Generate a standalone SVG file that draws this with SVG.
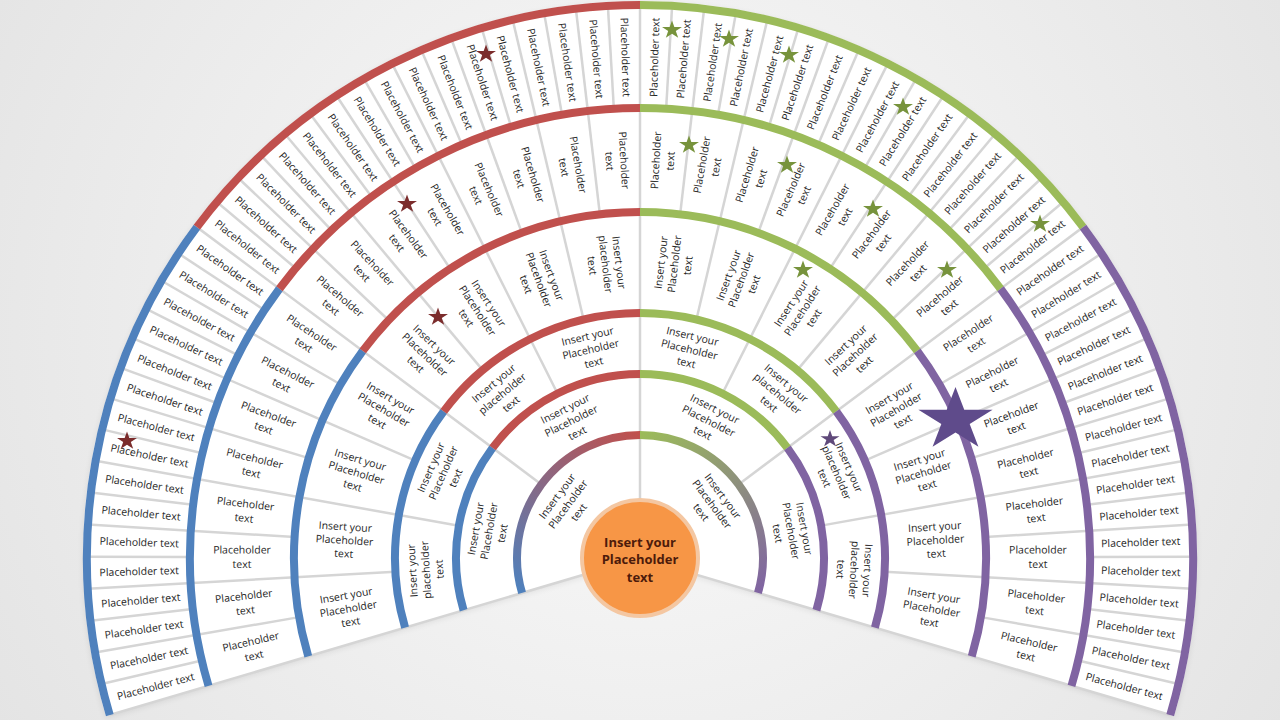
<svg xmlns="http://www.w3.org/2000/svg" xmlns:xlink="http://www.w3.org/1999/xlink" width="1280" height="720" viewBox="0 0 1280 720">
<defs>
<radialGradient id="bg" cx="640" cy="330" r="820" gradientUnits="userSpaceOnUse">
<stop offset="0" stop-color="#fbfbfb"/><stop offset="1" stop-color="#e2e2e2"/>
</radialGradient>
<linearGradient id="g1L" x1="522" y1="593" x2="640" y2="435" gradientUnits="userSpaceOnUse">
<stop offset="0" stop-color="#4F81BD"/><stop offset="1" stop-color="#C0504D"/>
</linearGradient>
<linearGradient id="g1R" x1="640" y1="435" x2="758" y2="593" gradientUnits="userSpaceOnUse">
<stop offset="0" stop-color="#9BBB59"/><stop offset="1" stop-color="#8064A2"/>
</linearGradient>
<path id="star" d="M0,-1 L0.2245,-0.309 L0.9511,-0.309 L0.3633,0.118 L0.5878,0.809 L0,0.382 L-0.5878,0.809 L-0.3633,0.118 L-0.9511,-0.309 L-0.2245,-0.309 Z"/>
<filter id="sh" x="-5%" y="-5%" width="110%" height="115%"><feGaussianBlur stdDeviation="3"/></filter>
</defs>
<style>
.t{font-family:"Open Sans","Liberation Sans",Arial,sans-serif;font-size:10.5px;fill:#262626;text-anchor:middle}
.c{font-family:"Open Sans","Liberation Sans",Arial,sans-serif;font-size:13px;font-weight:bold;fill:#4D1B0B;text-anchor:middle}
.dv{stroke:#D5D5D5;stroke-width:2.5}
.a{fill:none;stroke-width:8}
.bl{stroke:#4F81BD}.rd{stroke:#C0504D}.gn{stroke:#9BBB59}.pu{stroke:#8064A2}
.sr{fill:#7B2C2C}.sg{fill:#77933C}.sp{fill:#5F497A}.sb{fill:#5F4B8B}
</style>
<rect width="1280" height="720" fill="url(#bg)"/>
<path d="M640,560 L105.94,718.2 A557,557 0 1 1 1174.06,718.2 Z" fill="#000" opacity="0.08" filter="url(#sh)"/>
<path id="fan" d="M640,558 L105.94,716.2 A557,557 0 1 1 1174.06,716.2 Z" fill="#ffffff"/>

<g id="connectors" transform="translate(640,558)" class="dv">
<line x1="0" x2="553" transform="rotate(16.5)"/>
<line x1="450" x2="553" transform="rotate(13.17)"/>
<line x1="346" x2="553" transform="rotate(9.84)"/>
<line x1="450" x2="553" transform="rotate(6.52)"/>
<line x1="245" x2="553" transform="rotate(3.19)"/>
<line x1="450" x2="553" transform="rotate(-0.14)"/>
<line x1="346" x2="553" transform="rotate(-3.47)"/>
<line x1="450" x2="553" transform="rotate(-6.80)"/>
<line x1="184" x2="553" transform="rotate(-10.13)"/>
<line x1="450" x2="553" transform="rotate(-13.45)"/>
<line x1="346" x2="553" transform="rotate(-16.78)"/>
<line x1="450" x2="553" transform="rotate(-20.11)"/>
<line x1="245" x2="553" transform="rotate(-23.44)"/>
<line x1="450" x2="553" transform="rotate(-26.77)"/>
<line x1="346" x2="553" transform="rotate(-30.09)"/>
<line x1="450" x2="553" transform="rotate(-33.42)"/>
<line x1="123" x2="553" transform="rotate(-36.75)"/>
<line x1="450" x2="553" transform="rotate(-40.08)"/>
<line x1="346" x2="553" transform="rotate(-43.41)"/>
<line x1="450" x2="553" transform="rotate(-46.73)"/>
<line x1="245" x2="553" transform="rotate(-50.06)"/>
<line x1="450" x2="553" transform="rotate(-53.39)"/>
<line x1="346" x2="553" transform="rotate(-56.72)"/>
<line x1="450" x2="553" transform="rotate(-60.05)"/>
<line x1="184" x2="553" transform="rotate(-63.38)"/>
<line x1="450" x2="553" transform="rotate(-66.70)"/>
<line x1="346" x2="553" transform="rotate(-70.03)"/>
<line x1="450" x2="553" transform="rotate(-73.36)"/>
<line x1="245" x2="553" transform="rotate(-76.69)"/>
<line x1="450" x2="553" transform="rotate(-80.02)"/>
<line x1="346" x2="553" transform="rotate(-83.34)"/>
<line x1="450" x2="553" transform="rotate(-86.67)"/>
<line x1="0" x2="553" transform="rotate(-90)"/>
<line x1="450" x2="553" transform="rotate(-93.33)"/>
<line x1="346" x2="553" transform="rotate(-96.66)"/>
<line x1="450" x2="553" transform="rotate(-99.98)"/>
<line x1="245" x2="553" transform="rotate(-103.31)"/>
<line x1="450" x2="553" transform="rotate(-106.64)"/>
<line x1="346" x2="553" transform="rotate(-109.97)"/>
<line x1="450" x2="553" transform="rotate(-113.30)"/>
<line x1="184" x2="553" transform="rotate(-116.63)"/>
<line x1="450" x2="553" transform="rotate(-119.95)"/>
<line x1="346" x2="553" transform="rotate(-123.28)"/>
<line x1="450" x2="553" transform="rotate(-126.61)"/>
<line x1="245" x2="553" transform="rotate(-129.94)"/>
<line x1="450" x2="553" transform="rotate(-133.27)"/>
<line x1="346" x2="553" transform="rotate(-136.59)"/>
<line x1="450" x2="553" transform="rotate(-139.92)"/>
<line x1="123" x2="553" transform="rotate(-143.25)"/>
<line x1="450" x2="553" transform="rotate(-146.58)"/>
<line x1="346" x2="553" transform="rotate(-149.91)"/>
<line x1="450" x2="553" transform="rotate(-153.23)"/>
<line x1="245" x2="553" transform="rotate(-156.56)"/>
<line x1="450" x2="553" transform="rotate(-159.89)"/>
<line x1="346" x2="553" transform="rotate(-163.22)"/>
<line x1="450" x2="553" transform="rotate(-166.55)"/>
<line x1="184" x2="553" transform="rotate(-169.88)"/>
<line x1="450" x2="553" transform="rotate(-173.20)"/>
<line x1="346" x2="553" transform="rotate(-176.53)"/>
<line x1="450" x2="553" transform="rotate(-179.86)"/>
<line x1="245" x2="553" transform="rotate(-183.19)"/>
<line x1="450" x2="553" transform="rotate(-186.52)"/>
<line x1="346" x2="553" transform="rotate(-189.84)"/>
<line x1="450" x2="553" transform="rotate(-193.17)"/>
<line x1="0" x2="553" transform="rotate(-196.5)"/>
</g>

<g id="bands">
<path class="a" stroke="url(#g1L)" stroke-width="7" d="M522.07,592.93 A123,123 0 0 1 640,435"/>
<path class="a" stroke="url(#g1R)" stroke-width="7" d="M640,435 A123,123 0 0 1 757.93,592.93"/>
<path class="a bl" d="M463.58,610.26 A184,184 0 0 1 492.57,447.91"/>
<path class="a rd" d="M492.57,447.91 A184,184 0 0 1 640,374"/>
<path class="a gn" d="M640,374 A184,184 0 0 1 787.43,447.91"/>
<path class="a pu" d="M787.43,447.91 A184,184 0 0 1 816.42,610.26"/>
<path class="a bl" d="M405.09,627.58 A245,245 0 0 1 443.69,411.41"/>
<path class="a rd" d="M443.69,411.41 A245,245 0 0 1 640,313"/>
<path class="a gn" d="M640,313 A245,245 0 0 1 836.31,411.41"/>
<path class="a pu" d="M836.31,411.41 A245,245 0 0 1 874.91,627.58"/>
<path class="a bl" d="M308.25,656.27 A346,346 0 0 1 362.76,350.98"/>
<path class="a rd" d="M362.76,350.98 A346,346 0 0 1 640,212"/>
<path class="a gn" d="M640,212 A346,346 0 0 1 917.24,350.98"/>
<path class="a pu" d="M917.24,350.98 A346,346 0 0 1 971.75,656.27"/>
<path class="a bl" d="M208.53,685.81 A450,450 0 0 1 279.43,288.75"/>
<path class="a rd" d="M279.43,288.75 A450,450 0 0 1 640,108"/>
<path class="a gn" d="M640,108 A450,450 0 0 1 1000.57,288.75"/>
<path class="a pu" d="M1000.57,288.75 A450,450 0 0 1 1071.47,685.81"/>
<path class="a bl" d="M109.77,715.06 A553,553 0 0 1 196.90,227.12"/>
<path class="a rd" d="M196.90,227.12 A553,553 0 0 1 640,5"/>
<path class="a gn" d="M640,5 A553,553 0 0 1 1083.10,227.12"/>
<path class="a pu" d="M1083.10,227.12 A553,553 0 0 1 1170.23,715.06"/>
</g>

<g id="ring6" transform="translate(640,558)">
<g id="r6s00" transform="rotate(14.84) translate(501)"><text class="t" y="3.8">Placeholder text</text></g>
<g id="r6s01" transform="rotate(11.51) translate(501)"><text class="t" y="3.8">Placeholder text</text></g>
<g id="r6s02" transform="rotate(8.18) translate(501)"><text class="t" y="3.8">Placeholder text</text></g>
<g id="r6s03" transform="rotate(4.85) translate(501)"><text class="t" y="3.8">Placeholder text</text></g>
<g id="r6s04" transform="rotate(1.52) translate(501)"><text class="t" y="3.8">Placeholder text</text></g>
<g id="r6s05" transform="rotate(-1.80) translate(501)"><text class="t" y="3.8">Placeholder text</text></g>
<g id="r6s06" transform="rotate(-5.13) translate(501)"><text class="t" y="3.8">Placeholder text</text></g>
<g id="r6s07" transform="rotate(-8.46) translate(501)"><text class="t" y="3.8">Placeholder text</text></g>
<g id="r6s08" transform="rotate(-11.79) translate(501)"><text class="t" y="3.8">Placeholder text</text></g>
<g id="r6s09" transform="rotate(-15.12) translate(501)"><text class="t" y="3.8">Placeholder text</text></g>
<g id="r6s10" transform="rotate(-18.45) translate(501)"><text class="t" y="3.8">Placeholder text</text></g>
<g id="r6s11" transform="rotate(-21.77) translate(501)"><text class="t" y="3.8">Placeholder text</text></g>
<g id="r6s12" transform="rotate(-25.10) translate(501)"><text class="t" y="3.8">Placeholder text</text></g>
<g id="r6s13" transform="rotate(-28.43) translate(501)"><text class="t" y="3.8">Placeholder text</text></g>
<g id="r6s14" transform="rotate(-31.76) translate(501)"><text class="t" y="3.8">Placeholder text</text></g>
<g id="r6s15" transform="rotate(-35.09) translate(501)"><text class="t" y="3.8">Placeholder text</text></g>
<g id="r6s16" transform="rotate(-38.41) translate(501)"><text class="t" y="3.8">Placeholder text</text></g>
<g id="r6s17" transform="rotate(-41.74) translate(501)"><text class="t" y="3.8">Placeholder text</text></g>
<g id="r6s18" transform="rotate(-45.07) translate(501)"><text class="t" y="3.8">Placeholder text</text></g>
<g id="r6s19" transform="rotate(-48.40) translate(501)"><text class="t" y="3.8">Placeholder text</text></g>
<g id="r6s20" transform="rotate(-51.73) translate(501)"><text class="t" y="3.8">Placeholder text</text></g>
<g id="r6s21" transform="rotate(-55.05) translate(501)"><text class="t" y="3.8">Placeholder text</text></g>
<g id="r6s22" transform="rotate(-58.38) translate(501)"><text class="t" y="3.8">Placeholder text</text></g>
<g id="r6s23" transform="rotate(-61.71) translate(501)"><text class="t" y="3.8">Placeholder text</text></g>
<g id="r6s24" transform="rotate(-65.04) translate(501)"><text class="t" y="3.8">Placeholder text</text></g>
<g id="r6s25" transform="rotate(-68.37) translate(501)"><text class="t" y="3.8">Placeholder text</text></g>
<g id="r6s26" transform="rotate(-71.70) translate(501)"><text class="t" y="3.8">Placeholder text</text></g>
<g id="r6s27" transform="rotate(-75.02) translate(501)"><text class="t" y="3.8">Placeholder text</text></g>
<g id="r6s28" transform="rotate(-78.35) translate(501)"><text class="t" y="3.8">Placeholder text</text></g>
<g id="r6s29" transform="rotate(-81.68) translate(501)"><text class="t" y="3.8">Placeholder text</text></g>
<g id="r6s30" transform="rotate(-85.01) translate(501)"><text class="t" y="3.8">Placeholder text</text></g>
<g id="r6s31" transform="rotate(-88.34) translate(501)"><text class="t" y="3.8">Placeholder text</text></g>
<g id="r6s32" transform="rotate(-91.66) translate(501) rotate(180)"><text class="t" y="3.8">Placeholder text</text></g>
<g id="r6s33" transform="rotate(-94.99) translate(501) rotate(180)"><text class="t" y="3.8">Placeholder text</text></g>
<g id="r6s34" transform="rotate(-98.32) translate(501) rotate(180)"><text class="t" y="3.8">Placeholder text</text></g>
<g id="r6s35" transform="rotate(-101.65) translate(501) rotate(180)"><text class="t" y="3.8">Placeholder text</text></g>
<g id="r6s36" transform="rotate(-104.98) translate(501) rotate(180)"><text class="t" y="3.8">Placeholder text</text></g>
<g id="r6s37" transform="rotate(-108.30) translate(501) rotate(180)"><text class="t" y="3.8">Placeholder text</text></g>
<g id="r6s38" transform="rotate(-111.63) translate(501) rotate(180)"><text class="t" y="3.8">Placeholder text</text></g>
<g id="r6s39" transform="rotate(-114.96) translate(501) rotate(180)"><text class="t" y="3.8">Placeholder text</text></g>
<g id="r6s40" transform="rotate(-118.29) translate(501) rotate(180)"><text class="t" y="3.8">Placeholder text</text></g>
<g id="r6s41" transform="rotate(-121.62) translate(501) rotate(180)"><text class="t" y="3.8">Placeholder text</text></g>
<g id="r6s42" transform="rotate(-124.95) translate(501) rotate(180)"><text class="t" y="3.8">Placeholder text</text></g>
<g id="r6s43" transform="rotate(-128.27) translate(501) rotate(180)"><text class="t" y="3.8">Placeholder text</text></g>
<g id="r6s44" transform="rotate(-131.60) translate(501) rotate(180)"><text class="t" y="3.8">Placeholder text</text></g>
<g id="r6s45" transform="rotate(-134.93) translate(501) rotate(180)"><text class="t" y="3.8">Placeholder text</text></g>
<g id="r6s46" transform="rotate(-138.26) translate(501) rotate(180)"><text class="t" y="3.8">Placeholder text</text></g>
<g id="r6s47" transform="rotate(-141.59) translate(501) rotate(180)"><text class="t" y="3.8">Placeholder text</text></g>
<g id="r6s48" transform="rotate(-144.91) translate(501) rotate(180)"><text class="t" y="3.8">Placeholder text</text></g>
<g id="r6s49" transform="rotate(-148.24) translate(501) rotate(180)"><text class="t" y="3.8">Placeholder text</text></g>
<g id="r6s50" transform="rotate(-151.57) translate(501) rotate(180)"><text class="t" y="3.8">Placeholder text</text></g>
<g id="r6s51" transform="rotate(-154.90) translate(501) rotate(180)"><text class="t" y="3.8">Placeholder text</text></g>
<g id="r6s52" transform="rotate(-158.23) translate(501) rotate(180)"><text class="t" y="3.8">Placeholder text</text></g>
<g id="r6s53" transform="rotate(-161.55) translate(501) rotate(180)"><text class="t" y="3.8">Placeholder text</text></g>
<g id="r6s54" transform="rotate(-164.88) translate(501) rotate(180)"><text class="t" y="3.8">Placeholder text</text></g>
<g id="r6s55" transform="rotate(-168.21) translate(501) rotate(180)"><text class="t" y="3.8">Placeholder text</text></g>
<g id="r6s56" transform="rotate(-171.54) translate(501) rotate(180)"><text class="t" y="3.8">Placeholder text</text></g>
<g id="r6s57" transform="rotate(-174.87) translate(501) rotate(180)"><text class="t" y="3.8">Placeholder text</text></g>
<g id="r6s58" transform="rotate(-178.20) translate(501) rotate(180)"><text class="t" y="3.8">Placeholder text</text></g>
<g id="r6s59" transform="rotate(-181.52) translate(501) rotate(180)"><text class="t" y="3.8">Placeholder text</text></g>
<g id="r6s60" transform="rotate(-184.85) translate(501) rotate(180)"><text class="t" y="3.8">Placeholder text</text></g>
<g id="r6s61" transform="rotate(-188.18) translate(501) rotate(180)"><text class="t" y="3.8">Placeholder text</text></g>
<g id="r6s62" transform="rotate(-191.51) translate(501) rotate(180)"><text class="t" y="3.8">Placeholder text</text></g>
<g id="r6s63" transform="rotate(-194.84) translate(501) rotate(180)"><text class="t" y="3.8">Placeholder text</text></g>
</g>

<g id="ring5" transform="translate(640,558)">
<g id="r5s00" transform="rotate(13.17) translate(398)"><text class="t"><tspan x="0" y="-3.5">Placeholder</tspan><tspan x="0" y="11">text</tspan></text></g>
<g id="r5s01" transform="rotate(6.52) translate(398)"><text class="t"><tspan x="0" y="-3.5">Placeholder</tspan><tspan x="0" y="11">text</tspan></text></g>
<g id="r5s02" transform="rotate(-0.14) translate(398)"><text class="t"><tspan x="0" y="-3.5">Placeholder</tspan><tspan x="0" y="11">text</tspan></text></g>
<g id="r5s03" transform="rotate(-6.80) translate(398)"><text class="t"><tspan x="0" y="-3.5">Placeholder</tspan><tspan x="0" y="11">text</tspan></text></g>
<g id="r5s04" transform="rotate(-13.45) translate(398)"><text class="t"><tspan x="0" y="-3.5">Placeholder</tspan><tspan x="0" y="11">text</tspan></text></g>
<g id="r5s05" transform="rotate(-20.11) translate(398)"><text class="t"><tspan x="0" y="-3.5">Placeholder</tspan><tspan x="0" y="11">text</tspan></text></g>
<g id="r5s06" transform="rotate(-26.77) translate(398)"><text class="t"><tspan x="0" y="-3.5">Placeholder</tspan><tspan x="0" y="11">text</tspan></text></g>
<g id="r5s07" transform="rotate(-33.42) translate(398)"><text class="t"><tspan x="0" y="-3.5">Placeholder</tspan><tspan x="0" y="11">text</tspan></text></g>
<g id="r5s08" transform="rotate(-40.08) translate(398)"><text class="t"><tspan x="0" y="-3.5">Placeholder</tspan><tspan x="0" y="11">text</tspan></text></g>
<g id="r5s09" transform="rotate(-46.73) translate(398)"><text class="t"><tspan x="0" y="-3.5">Placeholder</tspan><tspan x="0" y="11">text</tspan></text></g>
<g id="r5s10" transform="rotate(-53.39) translate(398)"><text class="t"><tspan x="0" y="-3.5">Placeholder</tspan><tspan x="0" y="11">text</tspan></text></g>
<g id="r5s11" transform="rotate(-60.05) translate(398)"><text class="t"><tspan x="0" y="-3.5">Placeholder</tspan><tspan x="0" y="11">text</tspan></text></g>
<g id="r5s12" transform="rotate(-66.70) translate(398)"><text class="t"><tspan x="0" y="-3.5">Placeholder</tspan><tspan x="0" y="11">text</tspan></text></g>
<g id="r5s13" transform="rotate(-73.36) translate(398)"><text class="t"><tspan x="0" y="-3.5">Placeholder</tspan><tspan x="0" y="11">text</tspan></text></g>
<g id="r5s14" transform="rotate(-80.02) translate(398)"><text class="t"><tspan x="0" y="-3.5">Placeholder</tspan><tspan x="0" y="11">text</tspan></text></g>
<g id="r5s15" transform="rotate(-86.67) translate(398)"><text class="t"><tspan x="0" y="-3.5">Placeholder</tspan><tspan x="0" y="11">text</tspan></text></g>
<g id="r5s16" transform="rotate(-93.33) translate(398) rotate(180)"><text class="t"><tspan x="0" y="-3.5">Placeholder</tspan><tspan x="0" y="11">text</tspan></text></g>
<g id="r5s17" transform="rotate(-99.98) translate(398) rotate(180)"><text class="t"><tspan x="0" y="-3.5">Placeholder</tspan><tspan x="0" y="11">text</tspan></text></g>
<g id="r5s18" transform="rotate(-106.64) translate(398) rotate(180)"><text class="t"><tspan x="0" y="-3.5">Placeholder</tspan><tspan x="0" y="11">text</tspan></text></g>
<g id="r5s19" transform="rotate(-113.30) translate(398) rotate(180)"><text class="t"><tspan x="0" y="-3.5">Placeholder</tspan><tspan x="0" y="11">text</tspan></text></g>
<g id="r5s20" transform="rotate(-119.95) translate(398) rotate(180)"><text class="t"><tspan x="0" y="-3.5">Placeholder</tspan><tspan x="0" y="11">text</tspan></text></g>
<g id="r5s21" transform="rotate(-126.61) translate(398) rotate(180)"><text class="t"><tspan x="0" y="-3.5">Placeholder</tspan><tspan x="0" y="11">text</tspan></text></g>
<g id="r5s22" transform="rotate(-133.27) translate(398) rotate(180)"><text class="t"><tspan x="0" y="-3.5">Placeholder</tspan><tspan x="0" y="11">text</tspan></text></g>
<g id="r5s23" transform="rotate(-139.92) translate(398) rotate(180)"><text class="t"><tspan x="0" y="-3.5">Placeholder</tspan><tspan x="0" y="11">text</tspan></text></g>
<g id="r5s24" transform="rotate(-146.58) translate(398) rotate(180)"><text class="t"><tspan x="0" y="-3.5">Placeholder</tspan><tspan x="0" y="11">text</tspan></text></g>
<g id="r5s25" transform="rotate(-153.23) translate(398) rotate(180)"><text class="t"><tspan x="0" y="-3.5">Placeholder</tspan><tspan x="0" y="11">text</tspan></text></g>
<g id="r5s26" transform="rotate(-159.89) translate(398) rotate(180)"><text class="t"><tspan x="0" y="-3.5">Placeholder</tspan><tspan x="0" y="11">text</tspan></text></g>
<g id="r5s27" transform="rotate(-166.55) translate(398) rotate(180)"><text class="t"><tspan x="0" y="-3.5">Placeholder</tspan><tspan x="0" y="11">text</tspan></text></g>
<g id="r5s28" transform="rotate(-173.20) translate(398) rotate(180)"><text class="t"><tspan x="0" y="-3.5">Placeholder</tspan><tspan x="0" y="11">text</tspan></text></g>
<g id="r5s29" transform="rotate(-179.86) translate(398) rotate(180)"><text class="t"><tspan x="0" y="-3.5">Placeholder</tspan><tspan x="0" y="11">text</tspan></text></g>
<g id="r5s30" transform="rotate(-186.52) translate(398) rotate(180)"><text class="t"><tspan x="0" y="-3.5">Placeholder</tspan><tspan x="0" y="11">text</tspan></text></g>
<g id="r5s31" transform="rotate(-193.17) translate(398) rotate(180)"><text class="t"><tspan x="0" y="-3.5">Placeholder</tspan><tspan x="0" y="11">text</tspan></text></g>
</g>

<g id="ring4" transform="translate(640,558)">
<g id="r4s00" transform="rotate(9.84) translate(296)"><text class="t"><tspan x="0" y="-9.7">Insert your</tspan><tspan x="0" y="3.8">Placeholder</tspan><tspan x="0" y="17.3">text</tspan></text></g>
<g id="r4s01" transform="rotate(-3.47) translate(296)"><text class="t"><tspan x="0" y="-9.7">Insert your</tspan><tspan x="0" y="3.8">Placeholder</tspan><tspan x="0" y="17.3">text</tspan></text></g>
<g id="r4s02" transform="rotate(-16.78) translate(296)"><text class="t"><tspan x="0" y="-9.7">Insert your</tspan><tspan x="0" y="3.8">Placeholder</tspan><tspan x="0" y="17.3">text</tspan></text></g>
<g id="r4s03" transform="rotate(-30.09) translate(296)"><text class="t"><tspan x="0" y="-9.7">Insert your</tspan><tspan x="0" y="3.8">Placeholder</tspan><tspan x="0" y="17.3">text</tspan></text></g>
<g id="r4s04" transform="rotate(-43.41) translate(296)"><text class="t"><tspan x="0" y="-9.7">Insert your</tspan><tspan x="0" y="3.8">Placeholder</tspan><tspan x="0" y="17.3">text</tspan></text></g>
<g id="r4s05" transform="rotate(-56.72) translate(296)"><text class="t"><tspan x="0" y="-9.7">Insert your</tspan><tspan x="0" y="3.8">Placeholder</tspan><tspan x="0" y="17.3">text</tspan></text></g>
<g id="r4s06" transform="rotate(-70.03) translate(296)"><text class="t"><tspan x="0" y="-9.7">Insert your</tspan><tspan x="0" y="3.8">Placeholder</tspan><tspan x="0" y="17.3">text</tspan></text></g>
<g id="r4s07" transform="rotate(-83.34) translate(296)"><text class="t"><tspan x="0" y="-9.7">Insert your</tspan><tspan x="0" y="3.8">Placeholder</tspan><tspan x="0" y="17.3">text</tspan></text></g>
<g id="r4s08" transform="rotate(-96.66) translate(296) rotate(180)"><text class="t"><tspan x="0" y="-9.7">Insert your</tspan><tspan x="0" y="3.8">placeholder</tspan><tspan x="0" y="17.3">text</tspan></text></g>
<g id="r4s09" transform="rotate(-109.97) translate(296) rotate(180)"><text class="t"><tspan x="0" y="-9.7">Insert your</tspan><tspan x="0" y="3.8">Placeholder</tspan><tspan x="0" y="17.3">text</tspan></text></g>
<g id="r4s10" transform="rotate(-123.28) translate(296) rotate(180)"><text class="t"><tspan x="0" y="-9.7">Insert your</tspan><tspan x="0" y="3.8">Placeholder</tspan><tspan x="0" y="17.3">text</tspan></text></g>
<g id="r4s11" transform="rotate(-136.59) translate(296) rotate(180)"><text class="t"><tspan x="0" y="-9.7">Insert your</tspan><tspan x="0" y="3.8">Placeholder</tspan><tspan x="0" y="17.3">text</tspan></text></g>
<g id="r4s12" transform="rotate(-149.91) translate(296) rotate(180)"><text class="t"><tspan x="0" y="-9.7">Insert your</tspan><tspan x="0" y="3.8">Placeholder</tspan><tspan x="0" y="17.3">text</tspan></text></g>
<g id="r4s13" transform="rotate(-163.22) translate(296) rotate(180)"><text class="t"><tspan x="0" y="-9.7">Insert your</tspan><tspan x="0" y="3.8">Placeholder</tspan><tspan x="0" y="17.3">text</tspan></text></g>
<g id="r4s14" transform="rotate(-176.53) translate(296) rotate(180)"><text class="t"><tspan x="0" y="-9.7">Insert your</tspan><tspan x="0" y="3.8">Placeholder</tspan><tspan x="0" y="17.3">text</tspan></text></g>
<g id="r4s15" transform="rotate(-189.84) translate(296) rotate(180)"><text class="t"><tspan x="0" y="-9.7">Insert your</tspan><tspan x="0" y="3.8">Placeholder</tspan><tspan x="0" y="17.3">text</tspan></text></g>
</g>

<g id="ring3" transform="translate(640,558)">
<g id="r3s0" transform="rotate(3.19) translate(214.5) rotate(90)"><text class="t"><tspan x="0" y="-9.7">Insert your</tspan><tspan x="0" y="3.8">placeholder</tspan><tspan x="0" y="17.3">text</tspan></text></g>
<g id="r3s1" transform="rotate(-23.44) translate(214.5) rotate(90)"><text class="t"><tspan x="0" y="-9.7">Insert your</tspan><tspan x="0" y="3.8">placeholder</tspan><tspan x="0" y="17.3">text</tspan></text></g>
<g id="r3s2" transform="rotate(-50.06) translate(214.5) rotate(90)"><text class="t"><tspan x="0" y="-9.7">Insert your</tspan><tspan x="0" y="3.8">placeholder</tspan><tspan x="0" y="17.3">text</tspan></text></g>
<g id="r3s3" transform="rotate(-76.69) translate(214.5) rotate(90)"><text class="t"><tspan x="0" y="-9.7">Insert your</tspan><tspan x="0" y="3.8">Placeholder</tspan><tspan x="0" y="17.3">text</tspan></text></g>
<g id="r3s4" transform="rotate(-103.31) translate(214.5) rotate(90)"><text class="t"><tspan x="0" y="-9.7">Insert your</tspan><tspan x="0" y="3.8">Placeholder</tspan><tspan x="0" y="17.3">text</tspan></text></g>
<g id="r3s5" transform="rotate(-129.94) translate(214.5) rotate(90)"><text class="t"><tspan x="0" y="-9.7">Insert your</tspan><tspan x="0" y="3.8">placeholder</tspan><tspan x="0" y="17.3">text</tspan></text></g>
<g id="r3s6" transform="rotate(-156.56) translate(214.5) rotate(90)"><text class="t"><tspan x="0" y="-9.7">Insert your</tspan><tspan x="0" y="3.8">Placeholder</tspan><tspan x="0" y="17.3">text</tspan></text></g>
<g id="r3s7" transform="rotate(-183.19) translate(214.5) rotate(90)"><text class="t"><tspan x="0" y="-9.7">Insert your</tspan><tspan x="0" y="3.8">placeholder</tspan><tspan x="0" y="17.3">text</tspan></text></g>
</g>

<g id="ring2" transform="translate(640,558)">
<g id="r2s0" transform="rotate(-10.13) translate(153.5) rotate(90)"><text class="t"><tspan x="0" y="-9.7">Insert your</tspan><tspan x="0" y="3.8">Placeholder</tspan><tspan x="0" y="17.3">text</tspan></text></g>
<g id="r2s1" transform="rotate(-63.38) translate(153.5) rotate(90)"><text class="t"><tspan x="0" y="-9.7">Insert your</tspan><tspan x="0" y="3.8">Placeholder</tspan><tspan x="0" y="17.3">text</tspan></text></g>
<g id="r2s2" transform="rotate(-116.63) translate(153.5) rotate(90)"><text class="t"><tspan x="0" y="-9.7">Insert your</tspan><tspan x="0" y="3.8">Placeholder</tspan><tspan x="0" y="17.3">text</tspan></text></g>
<g id="r2s3" transform="rotate(-169.88) translate(153.5) rotate(90)"><text class="t"><tspan x="0" y="-9.7">Insert your</tspan><tspan x="0" y="3.8">Placeholder</tspan><tspan x="0" y="17.3">text</tspan></text></g>
</g>

<g id="ring1" transform="translate(640,558)">
<g id="r1s0" transform="rotate(-36.75) translate(90) rotate(90)"><text class="t"><tspan x="0" y="-9.7">Insert your</tspan><tspan x="0" y="3.8">Placeholder</tspan><tspan x="0" y="17.3">text</tspan></text></g>
<g id="r1s1" transform="rotate(-143.25) translate(90) rotate(90)"><text class="t"><tspan x="0" y="-9.7">Insert your</tspan><tspan x="0" y="3.8">Placeholder</tspan><tspan x="0" y="17.3">text</tspan></text></g>
</g>

<g id="stars">
<use href="#star" class="sr" transform="translate(486,54) scale(10.5,9.5)"/>
<use href="#star" class="sr" transform="translate(407,204) scale(10.5,9.5)"/>
<use href="#star" class="sr" transform="translate(438,317) scale(10.5,9.5)"/>
<use href="#star" class="sr" transform="translate(127,441) scale(10.5,9.5)"/>
<use href="#star" class="sg" transform="translate(672,30) scale(10.5,9.5)"/>
<use href="#star" class="sg" transform="translate(729,39) scale(10.5,9.5)"/>
<use href="#star" class="sg" transform="translate(789,55) scale(10.5,9.5)"/>
<use href="#star" class="sg" transform="translate(903,107) scale(10.5,9.5)"/>
<use href="#star" class="sg" transform="translate(1040,224) scale(10.5,9.5)"/>
<use href="#star" class="sg" transform="translate(689,145) scale(10.5,9.5)"/>
<use href="#star" class="sg" transform="translate(787,165) scale(10.5,9.5)"/>
<use href="#star" class="sg" transform="translate(873,209) scale(10.5,9.5)"/>
<use href="#star" class="sg" transform="translate(947,270) scale(10.5,9.5)"/>
<use href="#star" class="sg" transform="translate(803,270) scale(10.5,9.5)"/>
<use href="#star" class="sp" transform="translate(830,439) scale(10,9)"/>
<use href="#star" class="sb" transform="translate(955.5,420) scale(39,33)"/>
</g>

<g id="center">
<circle cx="640" cy="558" r="58" fill="#F79646" stroke="#F4C7A2" stroke-width="4"/>
<text class="c"><tspan x="640" y="546.5">Insert your</tspan><tspan x="640" y="564">Placeholder</tspan><tspan x="640" y="581.5">text</tspan></text>
</g>
</svg>
